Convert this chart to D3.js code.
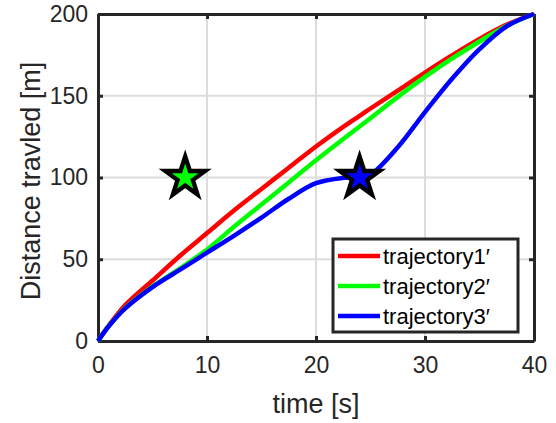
<!DOCTYPE html>
<html>
<head>
<meta charset="utf-8">
<script src="https://cdn.jsdelivr.net/npm/d3@7"></script>
<style>
  html, body { margin: 0; padding: 0; background: #fff; }
  svg { display: block; }
  text { font-family: "Liberation Sans", Arial, sans-serif; fill: #262626; }
</style>
</head>
<body>
<svg id="chart" width="556" height="423"></svg>
<script>
// Sample times [s]
const time = [0, 1, 2.5, 5, 7.5, 10, 12.5, 15, 17.5, 20, 22.5, 24, 25, 27.5, 30, 32.5, 35, 37.5, 40];

// Distance travelled [m] for each trajectory
const trajectory1 = [0, 9.5, 22, 37, 52, 66, 80, 93, 106, 119, 131, 137.7, 142.2, 153.2, 164.2, 174.8, 184.8, 193.5, 200];
const trajectory2 = [0, 9.2, 20.3, 33.3, 44.3, 56, 70, 83.5, 97, 110.5, 123.5, 131.2, 136.3, 149.3, 161.5, 172.8, 183.2, 192.8, 200];
const trajectory3 = [0, 9.2, 20, 33, 43.5, 54, 64.5, 75.5, 87, 96.5, 99.8, 100.2, 101.8, 118.5, 140, 160.5, 178.5, 192.5, 200];

const seriesNames = ["trajectory1\u2032", "trajectory2\u2032", "trajectory3\u2032"];
const seriesColors = ["#ff0000", "#00ff00", "#0000ff"];

// Star markers: [time, distance]
const starPoints = [[8, 100], [24, 100]];
const starColors = ["#00ff00", "#0000ff"];

const xTicks = [0, 10, 20, 30, 40];
const yTicks = [0, 50, 100, 150, 200];

const svg = d3.select("#chart");
const plotLeft = 98, plotRight = 534, plotTop = 14, plotBottom = 341;

const x = d3.scaleLinear().domain([0, 40]).range([plotLeft, plotRight]);
const y = d3.scaleLinear().domain([0, 200]).range([plotBottom, plotTop]);

// Grid
const grid = svg.append("g");
grid.selectAll("line.gx").data(xTicks.slice(1, -1)).join("line")
  .attr("class", "gx")
  .attr("x1", d => x(d)).attr("x2", d => x(d))
  .attr("y1", plotTop).attr("y2", plotBottom)
  .attr("stroke", "#dcdcdc").attr("stroke-width", 2);
grid.selectAll("line.gy").data(yTicks.slice(1, -1)).join("line")
  .attr("class", "gy")
  .attr("y1", d => y(d)).attr("y2", d => y(d))
  .attr("x1", plotLeft).attr("x2", plotRight)
  .attr("stroke", "#dcdcdc").attr("stroke-width", 2);

// Axes (box with inward ticks)
const axisColor = "#262626";
const bottomAxis = d3.axisBottom(x).tickValues(xTicks).tickSize(-5).tickPadding(16).tickSizeOuter(0);
const leftAxis = d3.axisLeft(y).tickValues(yTicks).tickSize(-5).tickPadding(10).tickSizeOuter(0);
const topAxis = d3.axisTop(x).tickValues(xTicks).tickSize(-5).tickFormat("").tickSizeOuter(0);
const rightAxis = d3.axisRight(y).tickValues(yTicks).tickSize(-5).tickFormat("").tickSizeOuter(0);

function styleAxis(g) {
  g.select(".domain").attr("stroke", axisColor).attr("stroke-width", 3);
  g.selectAll(".tick line").attr("stroke", axisColor).attr("stroke-width", 3);
  g.selectAll(".tick text").attr("font-size", 23).style("fill", axisColor)
    .attr("font-family", "Liberation Sans, Arial, sans-serif");
}
svg.append("g").attr("transform", `translate(0,${plotBottom})`).call(bottomAxis).call(styleAxis);
svg.append("g").attr("transform", `translate(${plotLeft},0)`).call(leftAxis).call(styleAxis);
svg.append("g").attr("transform", `translate(0,${plotTop})`).call(topAxis).call(styleAxis);
svg.append("g").attr("transform", `translate(${plotRight},0)`).call(rightAxis).call(styleAxis);

// Axis labels
svg.append("text")
  .attr("x", 316).attr("y", 413)
  .attr("text-anchor", "middle").attr("font-size", 27)
  .text("time [s]");
svg.append("text")
  .attr("transform", `translate(40,181) rotate(-90)`)
  .attr("text-anchor", "middle").attr("font-size", 27)
  .text("Distance travled [m]");

// Trajectory lines
const line = d3.line().x(d => x(d[0])).y(d => y(d[1])).curve(d3.curveCatmullRom.alpha(0.5));
[trajectory1, trajectory2, trajectory3].forEach((vals, i) => {
  svg.append("path")
    .datum(time.map((t, j) => [t, vals[j]]))
    .attr("d", line)
    .attr("fill", "none")
    .attr("stroke", seriesColors[i])
    .attr("stroke-width", 4.5)
    .attr("stroke-linejoin", "round");
});

// Star markers
function starPath(R) {
  const r = R * 0.382;
  const pts = [];
  for (let k = 0; k < 10; k++) {
    const a = -Math.PI / 2 + k * Math.PI / 5;
    const rad = k % 2 === 0 ? R : r;
    pts.push([rad * Math.cos(a), rad * Math.sin(a)]);
  }
  return d3.line()(pts) + "Z";
}
starPoints.forEach((p, i) => {
  const g = svg.append("g").attr("transform", `translate(${x(p[0])},${y(p[1])})`);
  g.append("path").attr("d", starPath(28)).attr("fill", "#000");
  g.append("path").attr("d", starPath(14)).attr("fill", starColors[i]);
});

// Legend
const legend = svg.append("g");
legend.append("rect")
  .attr("x", 333).attr("y", 239).attr("width", 185).attr("height", 93)
  .attr("fill", "#fff").attr("stroke", axisColor).attr("stroke-width", 3);
seriesNames.forEach((name, i) => {
  const cy = 256 + i * 30;
  legend.append("line")
    .attr("x1", 338).attr("x2", 380).attr("y1", cy).attr("y2", cy)
    .attr("stroke", seriesColors[i]).attr("stroke-width", 4.5);
  legend.append("text")
    .attr("x", 383).attr("y", cy + 7.5)
    .attr("font-size", 22).style("fill", "#000")
    .text(name);
});
</script>
</body>
</html>
